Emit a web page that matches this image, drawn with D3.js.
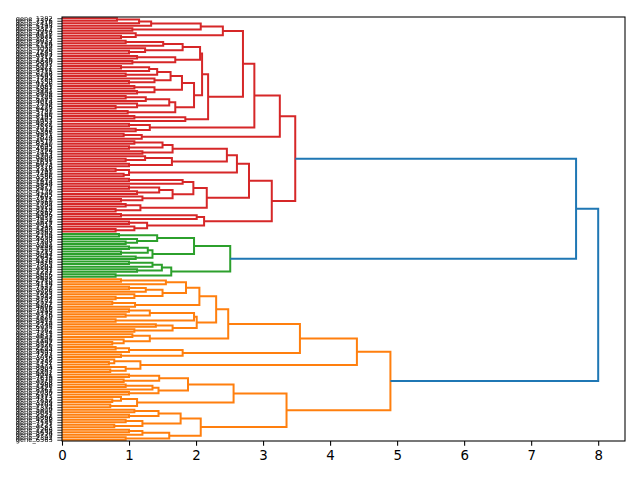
<!DOCTYPE html>
<html>
<head>
<meta charset="utf-8">
<script src="https://cdn.jsdelivr.net/npm/d3@7"></script>
<style>
body{margin:0;background:#fff;}
text{font-family:"DejaVu Sans",sans-serif;}
</style>
</head>
<body>
<svg id="chart" width="640" height="480"></svg>
<script>
//dendrogram, root on the right, leaves listed top to bottom

var L = 0; // a leaf

// each node is [height, upper child, lower child]
var redTree = [3.48,
  [3.25,
    [2.87,
      [2.70,
        [2.40, [2.07, [1.33, [1.15, [0.82, L, L], L], L], [1.05, L, L]], [1.1, L, [0.88, L, L]]],
        [2.18,
          [2.09,
            [2.06, [1.80, [1.51, [0.95, L, L], L], [1.24, L, [1.0, L, L]]], [1.69, [1.12, L, L], [1.05, L, L]]],
            [1.97,
              [1.79, [1.62, [1.42, [1.30, [0.88, L, L], L], [0.95, L, L]], [1.38, L, [1.0, L, L]]], [1.38, [1.08, L, L], [1.12, L, L]]],
              [1.69, [1.6, [1.25, [0.95, L, L], L], [1.12, L, [0.8, L, L]]], [0.98, L, L]]]],
          [1.84, [1.08, L, L], L]]],
      [1.31, [1.0, L, L], [1.1, L, L]]],
    [1.19, [0.92, L, L], L]],
  [3.13,
    [2.79,
      [2.61,
        [2.46, [1.65, [1.5, [1.08, L, L], [1.0, L, L]], [1.2, L, L]], [1.64, [1.24, L, [0.95, L, L]], [1.0, L, L]]],
        [1.0, [0.8, L, L], [0.92, L, L]]],
      [2.16,
        [1.96, [1.80, [1.0, L, L], L], [1.65, [1.45, [1.0, L, L], [1.12, L, L]], [1.2, L, [0.88, L, L]]]],
        [1.17, [0.95, L, L], [0.8, L, L]]]],
    [2.12, [2.01, [0.88, L, L], L], [1.27, [1.0, L, L], [1.08, L, [0.8, L, L]]]]]];

var greenTree = [2.51,
  [1.97, [1.42, [0.85, L, L], [1.12, L, [0.95, L, L]]], [1.35, [1.28, [1.0, L, L], [0.88, L, L]], [1.1, L, L]]],
  [1.63, [1.49, [1.35, [1.0, L, L], L], [1.12, L, L]], [0.8, L, L]]];

var orangeTree = [4.90,
  [4.40,
    [3.55,
      [2.48,
        [2.30,
          [2.05,
            [1.85, [1.55, [0.88, L, L], L], [1.50, [1.25, [1.0, L, L], L], [1.08, L, [0.8, L, L]]]],
            [1.09, [0.75, L, L], L]],
          [2.01, [1.97, [1.31, [1.0, L, L], [0.95, L, L]], [0.8, L, L]], [1.65, [1.4, L, L], [1.08, L, L]]]],
        [1.31, [1.05, L, L], [0.92, L, [0.75, L, L]]]],
      [1.80, [1.0, [0.8, L, L], L], [0.88, L, L]]],
    [1.17, [0.78, L, [0.7, L, L]], [0.95, L, [0.72, L, L]]]],
  [3.35,
    [2.56,
      [1.88, [1.45, [1.0, L, L], [0.92, L, L]], [1.44, [1.35, [0.95, L, L], L], [1.0, L, L]]],
      [1.12, [0.88, L, [0.75, L, L]], [0.72, L, L]]],
    [2.07,
      [1.77, [1.44, [1.08, L, L], [1.0, L, L]], [1.2, [0.95, L, L], [0.78, L, L]]],
      [1.60, [1.2, [1.0, L, L], L], [0.95, L, L]]]]];

var upperJoin = 7.67;  // red + green
var rootJoin = 8.0;    // (red + green) + orange
var clusterTrees = [redTree, greenTree, orangeTree];
var clusterColors = ["#d62728", "#2ca02c", "#ff7f0e"];
var aboveColor = "#1f77b4";
var xTicks = [0, 1, 2, 3, 4, 5, 6, 7, 8];
var xMax = 8.4;

var leafIds = [
  1282, 7376, 2410, 5193, 3327, 9054, 4418, 6621, 1875, 8032,
  2764, 5519, 3098, 7245, 4683, 9317, 1156, 6840, 2937, 5072,
  8461, 3715, 6208, 1593, 7784, 4350, 9126, 2081, 5867, 3442,
  8609, 1729, 6395, 4014, 7558, 2276, 9483, 5731, 3160, 8195,
  1407, 6952, 4827, 2539, 7013, 5386, 9671, 3874, 1048, 6517,
  8340, 2695, 4562, 7129, 3953, 5204, 9808, 1631, 6073, 8726,
  2318, 4791, 7460, 3586, 9235, 1914, 5648, 8877, 2452, 6139,
  4205, 7692, 3311, 9560, 1784, 5925, 8218, 2867, 6486, 4073,
  7931, 3629, 9012, 1345, 5480, 8563, 2106, 6754, 4938, 7307,
  3082, 9449, 1560, 5713, 8094, 2641, 6328, 4476, 7865, 3204,
  9391, 1237, 5056, 8652, 2983, 6710, 4129, 7537, 3768, 9925,
  1693, 5342, 8187, 2574, 6261, 4806, 7018, 3495, 9176, 1820,
  5602, 8413, 2749, 6935, 4362, 7274, 3831, 9647, 1109, 5997,
  8526, 2205, 6644, 4597, 7783, 3016, 9332, 1452, 5171, 8904,
  2887, 6402, 4041, 7619, 3570, 9268, 1988, 5425, 8361, 2030,
  6197, 4713, 7852, 3289, 9704, 1374, 5809, 8045, 2521, 6896,
  4288, 7141, 3727, 9583, 1266, 5634, 8779, 2392, 6563, 4950
];

var plotLeft = 62, plotRight = 625, plotTop = 17, plotBottom = 441;

// walk the trees, collect links
var links = [];
var leafCount = 0;
function walk(node, color){
  if(!Array.isArray(node)){
    var p = {pos: leafCount + 0.5, h: 0};
    leafCount++;
    return p;
  }
  var a = walk(node[1], color);
  var b = walk(node[2], color);
  links.push({a: a, b: b, h: node[0], color: color});
  return {pos: (a.pos + b.pos) / 2, h: node[0]};
}
var tops = clusterTrees.map(function(t, i){ return walk(t, clusterColors[i]); });
var upper = {pos: (tops[0].pos + tops[1].pos) / 2, h: upperJoin};
links.push({a: tops[0], b: tops[1], h: upperJoin, color: aboveColor});
links.push({a: upper, b: tops[2], h: rootJoin, color: aboveColor});

var n = leafCount;
var x = d3.scaleLinear().domain([0, xMax]).range([plotLeft, plotRight]);
var y = d3.scaleLinear().domain([0, n]).range([plotTop, plotBottom]);

var svg = d3.select("#chart");
var plot = svg.append("g").attr("id", "plot");

plot.selectAll("path.link")
  .data(links)
  .enter().append("path")
  .attr("class", "link")
  .attr("fill", "none")
  .attr("stroke", function(d){ return d.color; })
  .attr("stroke-width", 2)
  .attr("d", function(d){
    return "M" + x(d.a.h) + "," + y(d.a.pos) +
      "H" + x(d.h) + "V" + y(d.b.pos) + "H" + x(d.b.h);
  });

// leaf axis
var leafPos = d3.range(n).map(function(i){ return i + 0.5; });
var yAxis = d3.axisLeft(y)
  .tickValues(leafPos)
  .tickSize(4.67)
  .tickPadding(4.67)
  .tickFormat(function(d, i){ return "gene_" + leafIds[i]; });
var gy = svg.append("g")
  .attr("transform", "translate(" + plotLeft + ",0)")
  .style("filter", "grayscale(1)")
  .call(yAxis);
gy.select(".domain").remove();
gy.selectAll("line").attr("stroke", "#000").attr("stroke-width", 0.8);
gy.selectAll("text").style("font-size", "6.67px").attr("fill", "#000");

var xAxis = d3.axisBottom(x)
  .tickValues(xTicks)
  .tickSize(4.67)
  .tickPadding(4.67)
  .tickFormat(d3.format("d"));
var gx = svg.append("g").attr("transform", "translate(0," + plotBottom + ")").call(xAxis);
gx.select(".domain").remove();
gx.selectAll("line").attr("stroke", "#000").attr("stroke-width", 1.07);
gx.selectAll("text").style("font-size", "13.33px").attr("fill", "#000");

svg.append("rect")
  .attr("x", plotLeft).attr("y", plotTop)
  .attr("width", plotRight - plotLeft).attr("height", plotBottom - plotTop)
  .attr("fill", "none").attr("stroke", "#000").attr("stroke-width", 1.07);
</script>
</body>
</html>
